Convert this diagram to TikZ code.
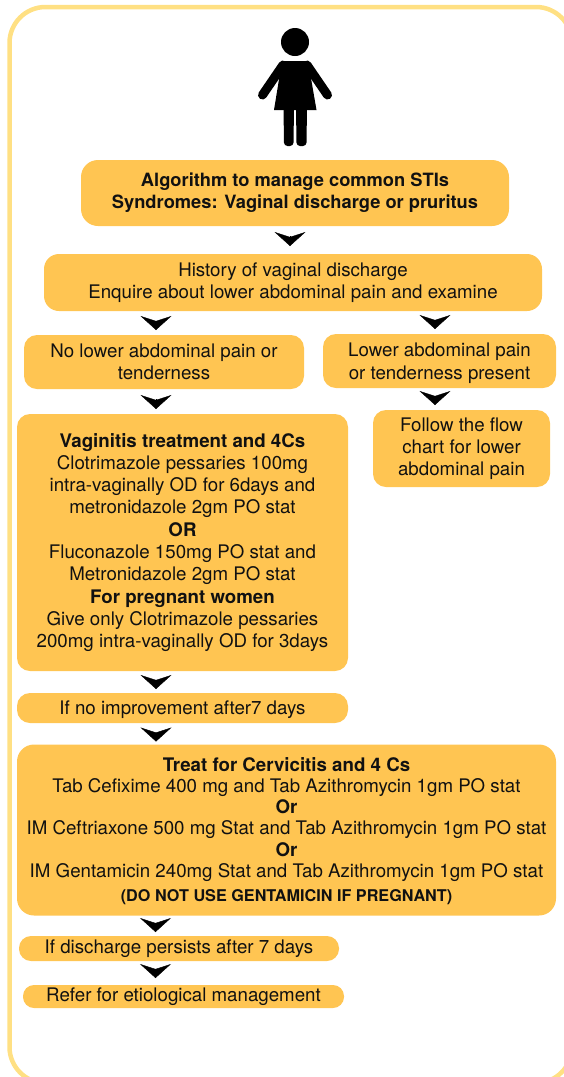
\documentclass[tikz,border=0pt]{standalone}
\usepackage{xcolor}
\usepackage{fontspec}
\setmainfont{TeX Gyre Heros}
\usetikzlibrary{
  arrows.meta,
  positioning
}
\definecolor{stiBox}{HTML}{FFC552}
\definecolor{stiFrame}{HTML}{FFE083}
\definecolor{stiText}{HTML}{111111}
\tikzset{
  stibox/.style={
    fill=stiBox, text=stiText, inner sep=0pt, outer sep=0pt, align=center,
    rounded corners=13pt, font=\fontsize{18.7}{22.3}\selectfont
  },
  frameline/.style={draw=stiFrame, line width=4.5pt, rounded corners=36pt},
  icon/.style={fill=black},
  iconlimb/.style={draw=black, line width=9pt, line cap=round},
  chevron/.style={
    -{Stealth[length=14pt, width=31pt, inset=5pt]}, black, line width=0.4pt,
    shorten <=10pt, shorten >=5pt
  }
}
\begin{document}
\begin{tikzpicture}[x=1pt, y=1pt]
  \useasboundingbox (0,0) rectangle (564,-1077);
  \draw[frameline] (9.5,-7) rectangle (572,-1083);

  \fill[icon] (295,-42) circle (14);
  \fill[icon] (282,-61) -- (308,-61) -- (316.5,-110) -- (274,-110) -- cycle;
  \draw[iconlimb] (283,-65) -- (262.5,-95);
  \draw[iconlimb] (307,-65) -- (327.5,-95);
  \fill[icon, rounded corners=3.5pt] (283.5,-105) -- (294,-105) -- (293.5,-146) -- (284,-146) -- cycle;
  \fill[icon, rounded corners=3.5pt] (296,-105) -- (307,-105) -- (306.5,-146) -- (296.5,-146) -- cycle;

  \node[stibox, rounded corners=17pt, minimum width=428pt, minimum height=66pt, font=\fontsize{18.3}{22.3}\selectfont\bfseries] (a) at (295,-193) {Algorithm to manage common STIs\\Syndromes: Vaginal discharge or pruritus};
  \node[stibox, rounded corners=15pt, minimum width=498pt, minimum height=57pt, below=28pt of a, xshift=-2pt] (b) {History of vaginal discharge\\Enquire about lower abdominal pain and examine};
  \node[stibox, minimum width=280pt, minimum height=54pt, below=24pt of b, xshift=-129pt] (c) {No lower abdominal pain or\\tenderness};
  \node[stibox, minimum width=233pt, minimum height=54pt, below=23pt of b, xshift=146.5pt] (d) {\rule{0pt}{18pt}Lower abdominal pain\\or tenderness present};
  \node[stibox, minimum width=177pt, minimum height=77pt, below=22pt of d, xshift=22pt] (e) {Follow the flow\\chart for lower\\abdominal pain};
  \node[stibox, minimum width=331pt, minimum height=257pt, below=25pt of c, xshift=18.5pt] (f) {\textbf{Vaginitis treatment and 4Cs}\\Clotrimazole pessaries 100mg\\intra-vaginally OD for 6days and\\metronidazole 2gm PO stat\\\textbf{OR}\\Fluconazole 150mg PO stat and\\Metronidazole 2gm PO stat\\\textbf{For pregnant women}\\Give only Clotrimazole pessaries\\200mg intra-vaginally OD for 3days};
  \node[stibox, minimum width=331pt, minimum height=30pt, below=22pt of f] (g) {\rule{0pt}{18pt}If no improvement after7 days};
  \node[stibox, rounded corners=17pt, minimum width=539pt, minimum height=171pt, font=\fontsize{18.7}{21.2}\selectfont, below=21.5pt of g, xshift=104pt] (h) {\rule{0pt}{16pt}\textbf{Treat for Cervicitis and 4 Cs}\\Tab Cefixime 400 mg and Tab Azithromycin 1gm PO stat\\\textbf{Or}\\IM Ceftriaxone 500 mg Stat and Tab Azithromycin 1gm PO stat\\\textbf{Or}\\IM Gentamicin 240mg Stat and Tab Azithromycin 1gm PO stat\\[3pt]{\fontsize{16.2}{16}\selectfont\bfseries (DO NOT USE GENTAMICIN IF PREGNANT)}};
  \node[stibox, rounded corners=12pt, minimum width=320pt, minimum height=25pt, below=20.5pt of h, xshift=-107.5pt] (i) {If discharge persists after 7 days};
  \node[stibox, rounded corners=11pt, minimum width=321pt, minimum height=23pt, below=24pt of i, xshift=4.5pt] (j) {Refer for etiological management};

  \draw[chevron, shorten >=8pt] ([xshift=-5pt]a.south) -- ([xshift=-3pt]b.north);
  \draw[chevron] ([xshift=-8pt]c.north |- b.south) -- ([xshift=-8pt]c.north);
  \draw[chevron] ([xshift=-4.5pt]d.north |- b.south) -- ([xshift=-4.5pt]d.north);
  \draw[chevron] ([xshift=-8pt]c.south) -- ([xshift=-8pt]c.south |- f.north);
  \draw[chevron] (d.south -| 435,0) -- (e.north -| 435,0);
  \draw[chevron, shorten >=4pt] ([xshift=-26.5pt]f.south) -- ([xshift=-26.5pt]g.north);
  \draw[chevron, shorten >=3pt] ([xshift=-26.5pt]g.south) -- ([xshift=-26.5pt]g.south |- h.north);
  \draw[chevron, shorten >=4pt] ([xshift=-23.5pt]i.north |- h.south) -- ([xshift=-23.5pt]i.north);
  \draw[chevron, shorten >=7pt] ([xshift=-23.5pt]i.south) -- ([xshift=-23.5pt]i.south |- j.north);
\end{tikzpicture}
\end{document}
